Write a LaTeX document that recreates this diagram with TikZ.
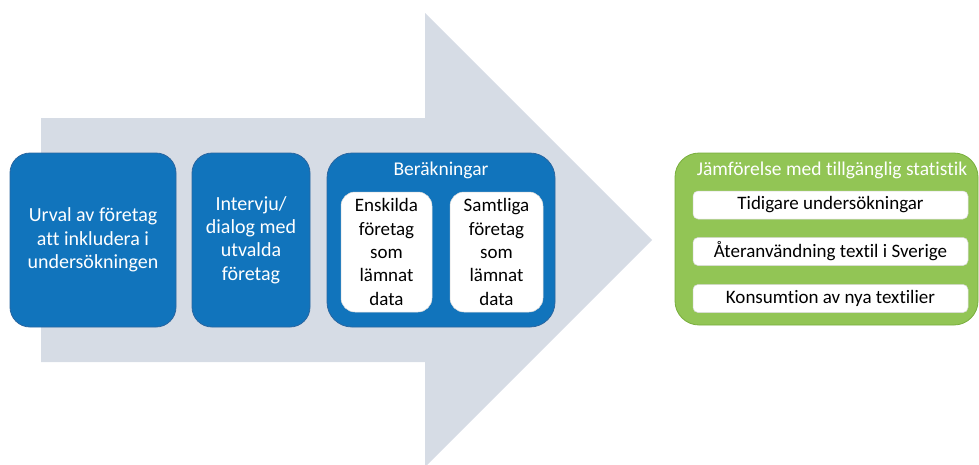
\documentclass[tikz,border=0pt]{standalone}
\usepackage{fontspec}
\setmainfont{Carlito}[Ligatures=NoCommon]
\definecolor{arrowgray}{HTML}{D6DCE5}
\definecolor{boxblue}{HTML}{1174BC}
\definecolor{blueedge}{HTML}{2A66A0}
\definecolor{boxgreen}{HTML}{92C555}
\definecolor{greenedge}{HTML}{78AE3C}
\begin{document}
\begin{tikzpicture}[x=1pt,y=-1pt,
  bluebox/.style={draw=blueedge,line width=0.8pt,fill=boxblue,rounded corners=20pt,text=white,align=center,font=\fontsize{20}{23.3}\selectfont,inner sep=0pt},
  whitebox/.style={draw=white!85!black,line width=0.5pt,fill=white,rounded corners=14pt,text=black,align=center,font=\fontsize{19}{23.3}\selectfont,inner sep=0pt},
  greenbox/.style={draw=greenedge,line width=0.8pt,fill=boxgreen,rounded corners=24pt,inner sep=0pt},
  listbox/.style={draw=white!85!black,line width=0.5pt,fill=white,rounded corners=5pt,text=black,font=\fontsize{19}{22}\selectfont,inner sep=0pt,minimum width=275pt,minimum height=28pt},
  titletext/.style={text=white,font=\fontsize{19.5}{22}\selectfont,inner sep=0pt}]
\useasboundingbox (0,0) rectangle (979,464);
\begin{scope}
\clip (0,0) rectangle (979,464);
\fill[arrowgray] (41,118) -- (425,118) -- (425,13) -- (652,240) -- (425,467) -- (425,362) -- (41,362) -- cycle;
\end{scope}
\node[bluebox,minimum width=166pt,minimum height=174pt] (urval) at (93,240) {Urval av företag\\att inkludera i\\undersökningen};
\node[bluebox,minimum width=118pt,minimum height=174pt] (intervju) at (251,240) {Intervju/\\dialog med\\utvalda\\företag};
\node[bluebox,rounded corners=25pt,minimum width=228pt,minimum height=174pt] (berak) at (441,240) {};
\node[titletext] (berakt) at (441,170) {Beräkningar};
\node[whitebox,minimum width=91pt,minimum height=120pt] (enskilda) at (386.5,252) {Enskilda\\företag\\som\\lämnat\\data};
\node[whitebox,minimum width=93pt,minimum height=120pt] (samtliga) at (496.5,252) {Samtliga\\företag\\som\\lämnat\\data};
\node[greenbox,minimum width=303pt,minimum height=172pt] (jamf) at (826.5,239) {};
\node[titletext] (jamft) at (832,170) {Jämförelse med tillgänglig statistik};
\node[listbox] (tidigare) at (830.5,205) {Tidigare undersökningar};
\node[listbox] (ateranv) at (830.5,251.5) {Återanvändning textil i Sverige};
\node[listbox] (konsum) at (830.5,298.5) {Konsumtion av nya textilier};
\end{tikzpicture}
\end{document}
